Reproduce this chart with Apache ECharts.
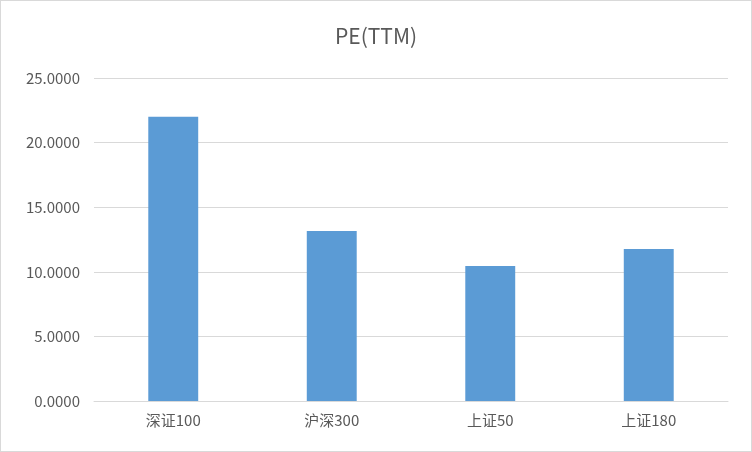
<!DOCTYPE html>
<html>
<head>
<meta charset="utf-8">
<script src="https://cdn.jsdelivr.net/npm/echarts@6/dist/echarts.min.js"></script>
<style>
  html, body { margin: 0; padding: 0; background: #fff; }
  #chart { width: 750px; height: 450px; border: 1px solid #d9d9d9; }
</style>
</head>
<body>
<div id="chart"></div>
<script>
// PE(TTM) by index
var categories = ['深证100', '沪深300', '上证50', '上证180'];
var peValues = [22.0, 13.16, 10.45, 11.76];

var chart = echarts.init(document.getElementById('chart'));
chart.setOption({
  animation: false,
  title: {
    text: 'PE(TTM)',
    left: 'center',
    top: 20,
    textStyle: { color: '#595959', fontSize: 21, fontWeight: 'normal', fontFamily: 'Noto Sans CJK SC' }
  },
  grid: { left: 93, right: 23, top: 77, bottom: 50 },
  xAxis: {
    type: 'category',
    data: categories,
    axisLine: { lineStyle: { color: '#d9d9d9' } },
    axisTick: { show: false },
    axisLabel: { color: '#595959', fontSize: 15, margin: 12, fontFamily: 'Noto Sans CJK SC' }
  },
  yAxis: {
    type: 'value',
    min: 0,
    max: 25,
    interval: 5,
    axisLine: { show: false },
    axisTick: { show: false },
    splitLine: { lineStyle: { color: '#d9d9d9' } },
    axisLabel: {
      color: '#595959', fontSize: 15, margin: 14, fontFamily: 'Noto Sans CJK SC',
      formatter: function (v) { return v.toFixed(4); }
    }
  },
  series: [{
    type: 'bar',
    data: peValues,
    barWidth: '31.5%',
    itemStyle: { color: '#5b9bd5' }
  }]
});
</script>
</body>
</html>
